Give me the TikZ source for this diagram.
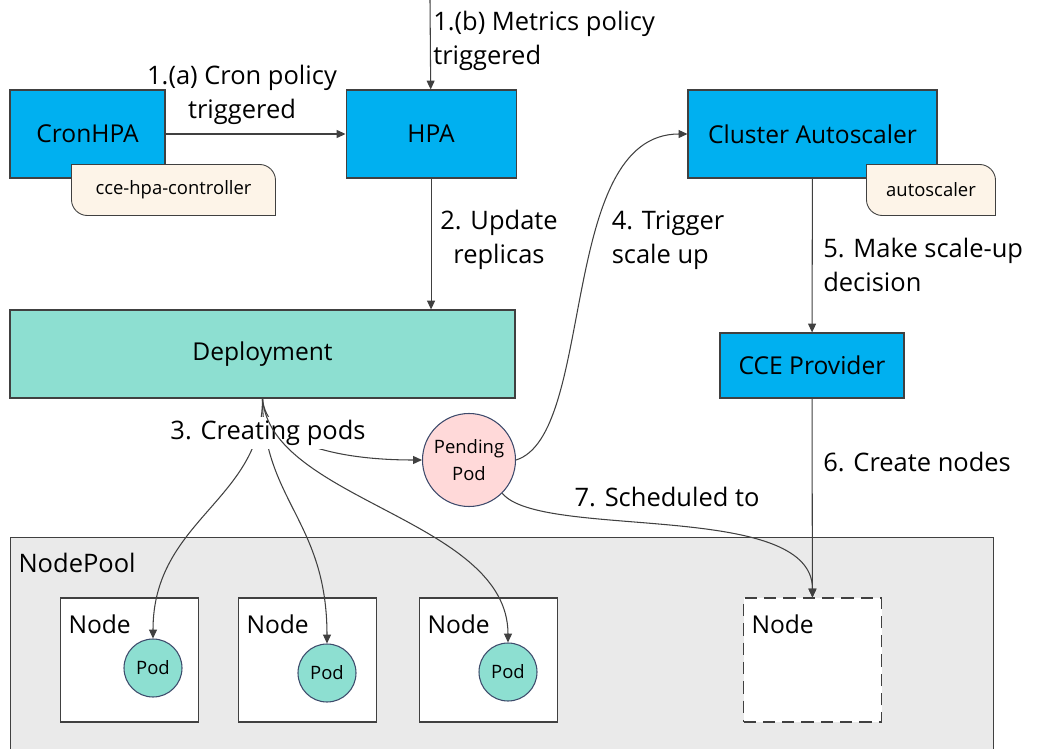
\documentclass[tikz,border=0pt]{standalone}
\usepackage{fontspec}
\setmainfont{Open Sans}
\usetikzlibrary{arrows.meta}
\usetikzlibrary{positioning}

\definecolor{boxblue}{HTML}{00B0F0}
\definecolor{deployteal}{HTML}{8DDFD1}
\definecolor{pendpink}{HTML}{FFD9D9}
\definecolor{tagcream}{HTML}{FDF4E8}
\definecolor{poolgray}{HTML}{EAEAEA}
\definecolor{linec}{HTML}{404040}
\definecolor{podline}{HTML}{3D4A6B}

\newcommand{\boxfont}{\fontsize{14}{17}\selectfont}
\newcommand{\lblfont}{\fontsize{14.5}{19.5}\selectfont}
\newcommand{\smallfont}{\fontsize{10.5}{14}\selectfont}

\begin{document}
\begin{tikzpicture}[
	> = {Triangle[length=5pt, width=4.5pt]}, % arrow head style
	line width = 0.6pt,
	draw = linec,
	box/.style = {draw=linec, fill=boxblue, minimum height=1.76cm, inner sep=0pt, font=\boxfont},
	tagbox/.style = {minimum height=1cm, inner sep=0pt},
	tagshape/.style = {draw=linec, fill=tagcream, line width=0.5pt},
	tagtext/.style = {font=\smallfont, inner sep=0pt},
	lbl/.style = {font=\lblfont, align=left, inner sep=1pt},
	pod/.style = {circle, draw=podline, fill=deployteal, minimum size=1.16cm, inner sep=0pt, font=\smallfont},
	nodebox/.style = {draw=linec, fill=white, minimum width=2.76cm, minimum height=2.48cm, inner sep=0pt},
	nodetext/.style = {font=\fontsize{14}{17}\selectfont, inner sep=0pt, anchor=base west},
	conn/.style = {->, draw=linec}
	]
	
	\useasboundingbox (0,0) rectangle (20.8,-14.98);
	
	% node pool and its nodes
	\node[draw=linec, fill=poolgray, minimum width=19.66cm, minimum height=4.6cm, anchor=north west] (pool) at (0.2,-10.74) {};
	\node[nodetext, font=\fontsize{14.5}{17}\selectfont] (pooltext) at ([shift={(0.16,-0.7)}]pool.north west) {NodePool};
	
	\node[nodebox] (n1) at (2.59,-13.2) {};
	\node[nodebox] (n2) at (6.15,-13.2) {};
	\node[nodebox] (n3) at (9.77,-13.2) {};
	\node[nodebox, dashed, dash pattern=on 7pt off 4pt] (n4) at (16.25,-13.2) {};
	\foreach \n in {n1, n2, n3, n4}
		\node[nodetext] (\n text) at ([shift={(0.16,-0.72)}]\n.north west) {Node};
	
	\node[pod] (p1) at (3.06,-13.36) {Pod};
	\node[pod] (p2) at (6.54,-13.46) {Pod};
	\node[pod] (p3) at (10.16,-13.44) {Pod};
	
	% controllers
	\node[box, minimum width=3.1cm] (cronhpa) at (1.75,-2.68) {CronHPA};
	\node[box, minimum width=3.4cm] (hpa) [right=3.6cm of cronhpa] {HPA};
	\node[box, minimum width=4.98cm] (ca) at (16.25,-2.68) {Cluster Autoscaler};
	\node[box, minimum width=3.68cm, minimum height=1.3cm] (cce) at (16.24,-7.31) {CCE Provider};
	\node[box, fill=deployteal, minimum width=10.1cm] (deploy) at (5.25,-7.08) {Deployment};
	\node[circle, draw=podline, fill=pendpink, minimum size=1.86cm, inner sep=0pt, align=center,
		font=\fontsize{10.5}{15}\selectfont] (pending) at (9.38,-9.2) {Pending\\Pod};
	
	% tags
	\node[tagbox, minimum width=4.06cm] (ctl) at (3.47,-3.8) {};
	\filldraw[tagshape] (ctl.north west) -- ([xshift=-0.32cm]ctl.north east)
		arc[start angle=90, end angle=0, radius=0.32cm] -- (ctl.south east)
		-- ([xshift=0.32cm]ctl.south west) arc[start angle=270, end angle=180, radius=0.32cm] -- cycle;
	\node[tagtext] (ctltext) at (ctl) {cce-hpa-controller};
	
	\node[tagbox, minimum width=2.56cm] (ast) at (18.62,-3.8) {};
	\filldraw[tagshape] (ast.north west) -- ([xshift=-0.32cm]ast.north east)
		arc[start angle=90, end angle=0, radius=0.32cm] -- (ast.south east)
		-- ([xshift=0.32cm]ast.south west) arc[start angle=270, end angle=180, radius=0.32cm] -- cycle;
	\node[tagtext] (asttext) at (ast) {autoscaler};
	
	% 1. policies
	\coordinate (mtop) at (8.6,0);
	\draw[conn] (cronhpa) -- (hpa);
	\node[lbl, align=center] (la) at (4.84,-1.9) {1.(a) Cron policy\\triggered};
	\draw[conn] (mtop) -- (hpa);
	\node[lbl, anchor=west] (lb) at (8.62,-0.82) {1.(b) Metrics policy\\triggered};
	
	% 2. replicas
	\draw[conn] (hpa) -- (hpa |- deploy.north);
	\node[lbl, align=center] (l2) at (9.98,-4.8) {2. Update\\replicas};
	
	% 3. creating pods
	\coordinate (dbot) at (deploy.south);
	\draw[conn] (dbot) .. controls +(0.06,-0.84) and +(-1.82,0) .. (pending.west);
	\draw[conn] (dbot) .. controls +(0,-2.04) and +(0,2.38) .. (p1.north);
	\draw[conn] (dbot) .. controls +(0,-2.04) and +(0,2.46) .. (p2.north);
	\node[lbl, fill=white, inner sep=2pt] (l3) at (5.36,-8.66) {3. Creating pods};
	\draw[conn] (dbot) .. controls +(0.16,-2.04) and +(0,2.46) .. (p3.north);
	
	% 4. scale up
	\draw[conn] (pending.east) .. controls +(1.6,0.5) and +(-2.6,0) .. (ca.west);
	\node[lbl] (l4) at (13.36,-4.8) {4. Trigger\\scale up};
	
	% 5. decision
	\draw[conn] (ca) -- (cce);
	\node[lbl, anchor=west] (l5) at (16.42,-5.3) {5. Make scale-up\\decision};
	
	% 6. create nodes
	\draw[conn] (cce) -- (n4);
	\node[lbl, anchor=west] (l6) at (16.42,-9.24) {6. Create nodes};
	
	% 7. scheduled
	\draw[conn] (pending.-45) .. controls +(0.76,-0.94) and +(0,1.96) .. (n4.north);
	\node[lbl] (l7) at (13.34,-9.94) {7. Scheduled to};
	
\end{tikzpicture}
\end{document}
